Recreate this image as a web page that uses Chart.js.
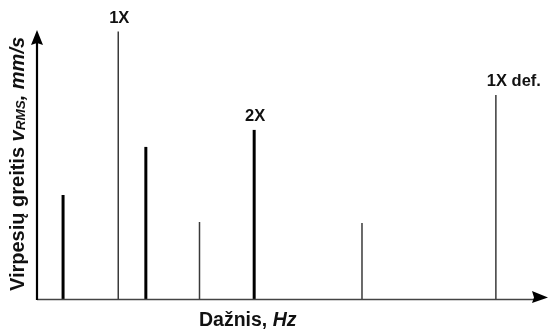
<!DOCTYPE html>
<html>
<head>
<meta charset="utf-8">
<script src="https://cdn.jsdelivr.net/npm/chart.js@4"></script>
<style>
  html, body { margin: 0; padding: 0; background: #fff; }
  #wrap { width: 551px; height: 331px; }
</style>
</head>
<body>
<div id="wrap"><canvas id="spectrum" width="551" height="331"></canvas></div>
<script>
// spectrum lines (schematic units)
const thickFreq = [5.1, 21.3, 42.5];
const thickAmp = [38.9, 56.7, 63];
const thinFreq = [15.9, 31.8, 63.6, 89.8];
const thinAmp = [99.4, 28.9, 28.5, 75.9];

// peak labels
const peakLabels = ['1X', '2X', '1X def.'];
const peakFreq = [15.9, 42.5, 89.8];
const peakAmp = [99.4, 63, 75.9];

const ink = '#111';
const FONT = '"Liberation Sans", Arial, sans-serif';

const toPoints = (xs, ys) => xs.map((x, i) => ({ x: x, y: ys[i] }));

// draws arrows, axis titles and peak labels
const spectrumDeco = {
  id: 'spectrumDeco',
  afterDraw(chart) {
    const ctx = chart.ctx;
    const xs = chart.scales.x;
    const ys = chart.scales.y;
    const x0 = xs.getPixelForValue(0);
    const y0 = ys.getPixelForValue(0);
    const xEnd = xs.getPixelForValue(100);
    const yEnd = ys.getPixelForValue(100);

    ctx.save();
    // x axis
    ctx.strokeStyle = '#444';
    ctx.lineWidth = 1.5;
    ctx.beginPath();
    ctx.moveTo(x0, y0 - 0.5);
    ctx.lineTo(xEnd - 10, y0 - 0.5);
    ctx.stroke();
    ctx.fillStyle = '#000';
    ctx.beginPath();
    ctx.moveTo(xEnd, y0 - 2.5);
    ctx.lineTo(xEnd - 16, y0 - 9);
    ctx.lineTo(xEnd - 14, y0 - 2.5);
    ctx.lineTo(xEnd - 16, y0 + 3);
    ctx.closePath();
    ctx.fill();

    // y axis
    ctx.strokeStyle = '#000';
    ctx.lineWidth = 2.2;
    ctx.beginPath();
    ctx.moveTo(x0, y0);
    ctx.lineTo(x0, yEnd + 10);
    ctx.stroke();
    ctx.beginPath();
    ctx.moveTo(x0, yEnd);
    ctx.lineTo(x0 - 6, yEnd + 15);
    ctx.lineTo(x0, yEnd + 13);
    ctx.lineTo(x0 + 6, yEnd + 15);
    ctx.closePath();
    ctx.fill();

    // peak labels
    ctx.fillStyle = ink;
    ctx.textBaseline = 'alphabetic';
    ctx.textAlign = 'left';
    ctx.font = 'bold 16.5px ' + FONT;
    const half = ctx.measureText('1X').width / 2;
    peakLabels.forEach((txt, i) => {
      const px = xs.getPixelForValue(peakFreq[i]);
      const py = ys.getPixelForValue(peakAmp[i]);
      ctx.fillText(txt, px - half + 1, py - 9);
    });

    // x title
    const xParts = [
      { t: 'Dažnis, ', f: 'bold 19.5px ' + FONT },
      { t: 'Hz', f: 'italic bold 19.5px ' + FONT }
    ];
    drawRich(ctx, xParts, 199, 326);

    // y title, rotated
    const yParts = [
      { t: 'Virpesių greitis ', f: 'bold 20px ' + FONT },
      { t: 'v', f: 'italic bold 20px ' + FONT },
      { t: 'RMS', f: 'italic bold 13.5px ' + FONT, dy: 1 },
      { t: ', mm/s', f: 'italic bold 20px ' + FONT }
    ];
    ctx.translate(24, (yEnd + y0) / 2 - 1);
    ctx.rotate(-Math.PI / 2);
    drawRich(ctx, yParts, null, 0);
    ctx.restore();
  }
};

function drawRich(ctx, parts, x, y) {
  let total = 0;
  parts.forEach(p => { ctx.font = p.f; total += ctx.measureText(p.t).width; });
  let cx = x === null ? -total / 2 : x;
  parts.forEach(p => {
    ctx.font = p.f;
    ctx.fillText(p.t, cx, y + (p.dy || 0));
    cx += ctx.measureText(p.t).width;
  });
}

new Chart(document.getElementById('spectrum'), {
  type: 'bar',
  data: {
    datasets: [
      {
        label: 'thick',
        data: toPoints(thickFreq, thickAmp),
        backgroundColor: '#000',
        maxBarThickness: 3,
        grouped: false
      },
      {
        label: 'thin',
        data: toPoints(thinFreq, thinAmp),
        backgroundColor: '#3a3a3a',
        maxBarThickness: 1.5,
        grouped: false
      }
    ]
  },
  options: {
    responsive: false,
    animation: false,
    layout: { padding: { left: 37, right: 3, top: 30, bottom: 31 } },
    plugins: { legend: { display: false }, tooltip: { enabled: false } },
    scales: {
      x: { type: 'linear', min: 0, max: 100, offset: false, display: false },
      y: { min: 0, max: 100, display: false }
    }
  },
  plugins: [spectrumDeco]
});
</script>
</body>
</html>
